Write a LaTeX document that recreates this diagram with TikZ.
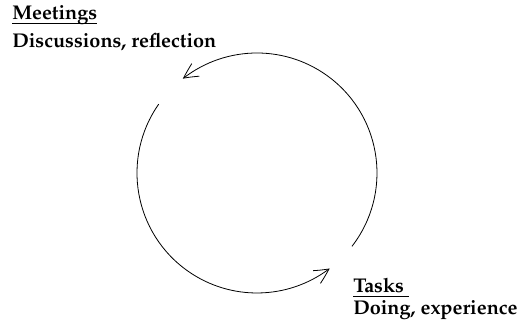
\documentclass[tikz,border=0pt]{standalone}
\usepackage[T1]{fontenc}
\renewcommand{\rmdefault}{ppl}
\usepackage{tikz}
\usetikzlibrary{arrows.meta,bending,calc}
\newcommand{\heading}[1]{\setbox0\hbox{#1}\rlap{\vrule width\wd0 height -2.4pt depth 3.0pt}\box0}

\begin{document}
\begin{tikzpicture}[x=0.75pt,y=0.75pt,
  every node/.style={font=\fontsize{14.9}{16}\selectfont\bfseries},
  lbl/.style={anchor=base west,inner sep=0pt},
  cyc/.style={line width=0.6pt,-{Straight Barb[length=11pt,width=11pt,bend]}}]
 \useasboundingbox (0,0) rectangle (519,327);
 \coordinate (o) at (257,154);
 \node[lbl] (meet) at (12,307) {\heading{Meetings}};
 \node[lbl] (disc) at (12,279) {Discussions, reflection};
 \node[lbl] (task) at (353,34) {\heading{Tasks\ }};
 \node[lbl] (doing) at (353,12) {Doing, experience};
 \draw[cyc] ($(o)+(-37.7:120)$) arc[start angle=-37.7,end angle=128.2,radius=90pt];
 \draw[cyc] ($(o)+(145:120)$) arc[start angle=145,end angle=307.3,radius=90pt];
\end{tikzpicture}
\end{document}
